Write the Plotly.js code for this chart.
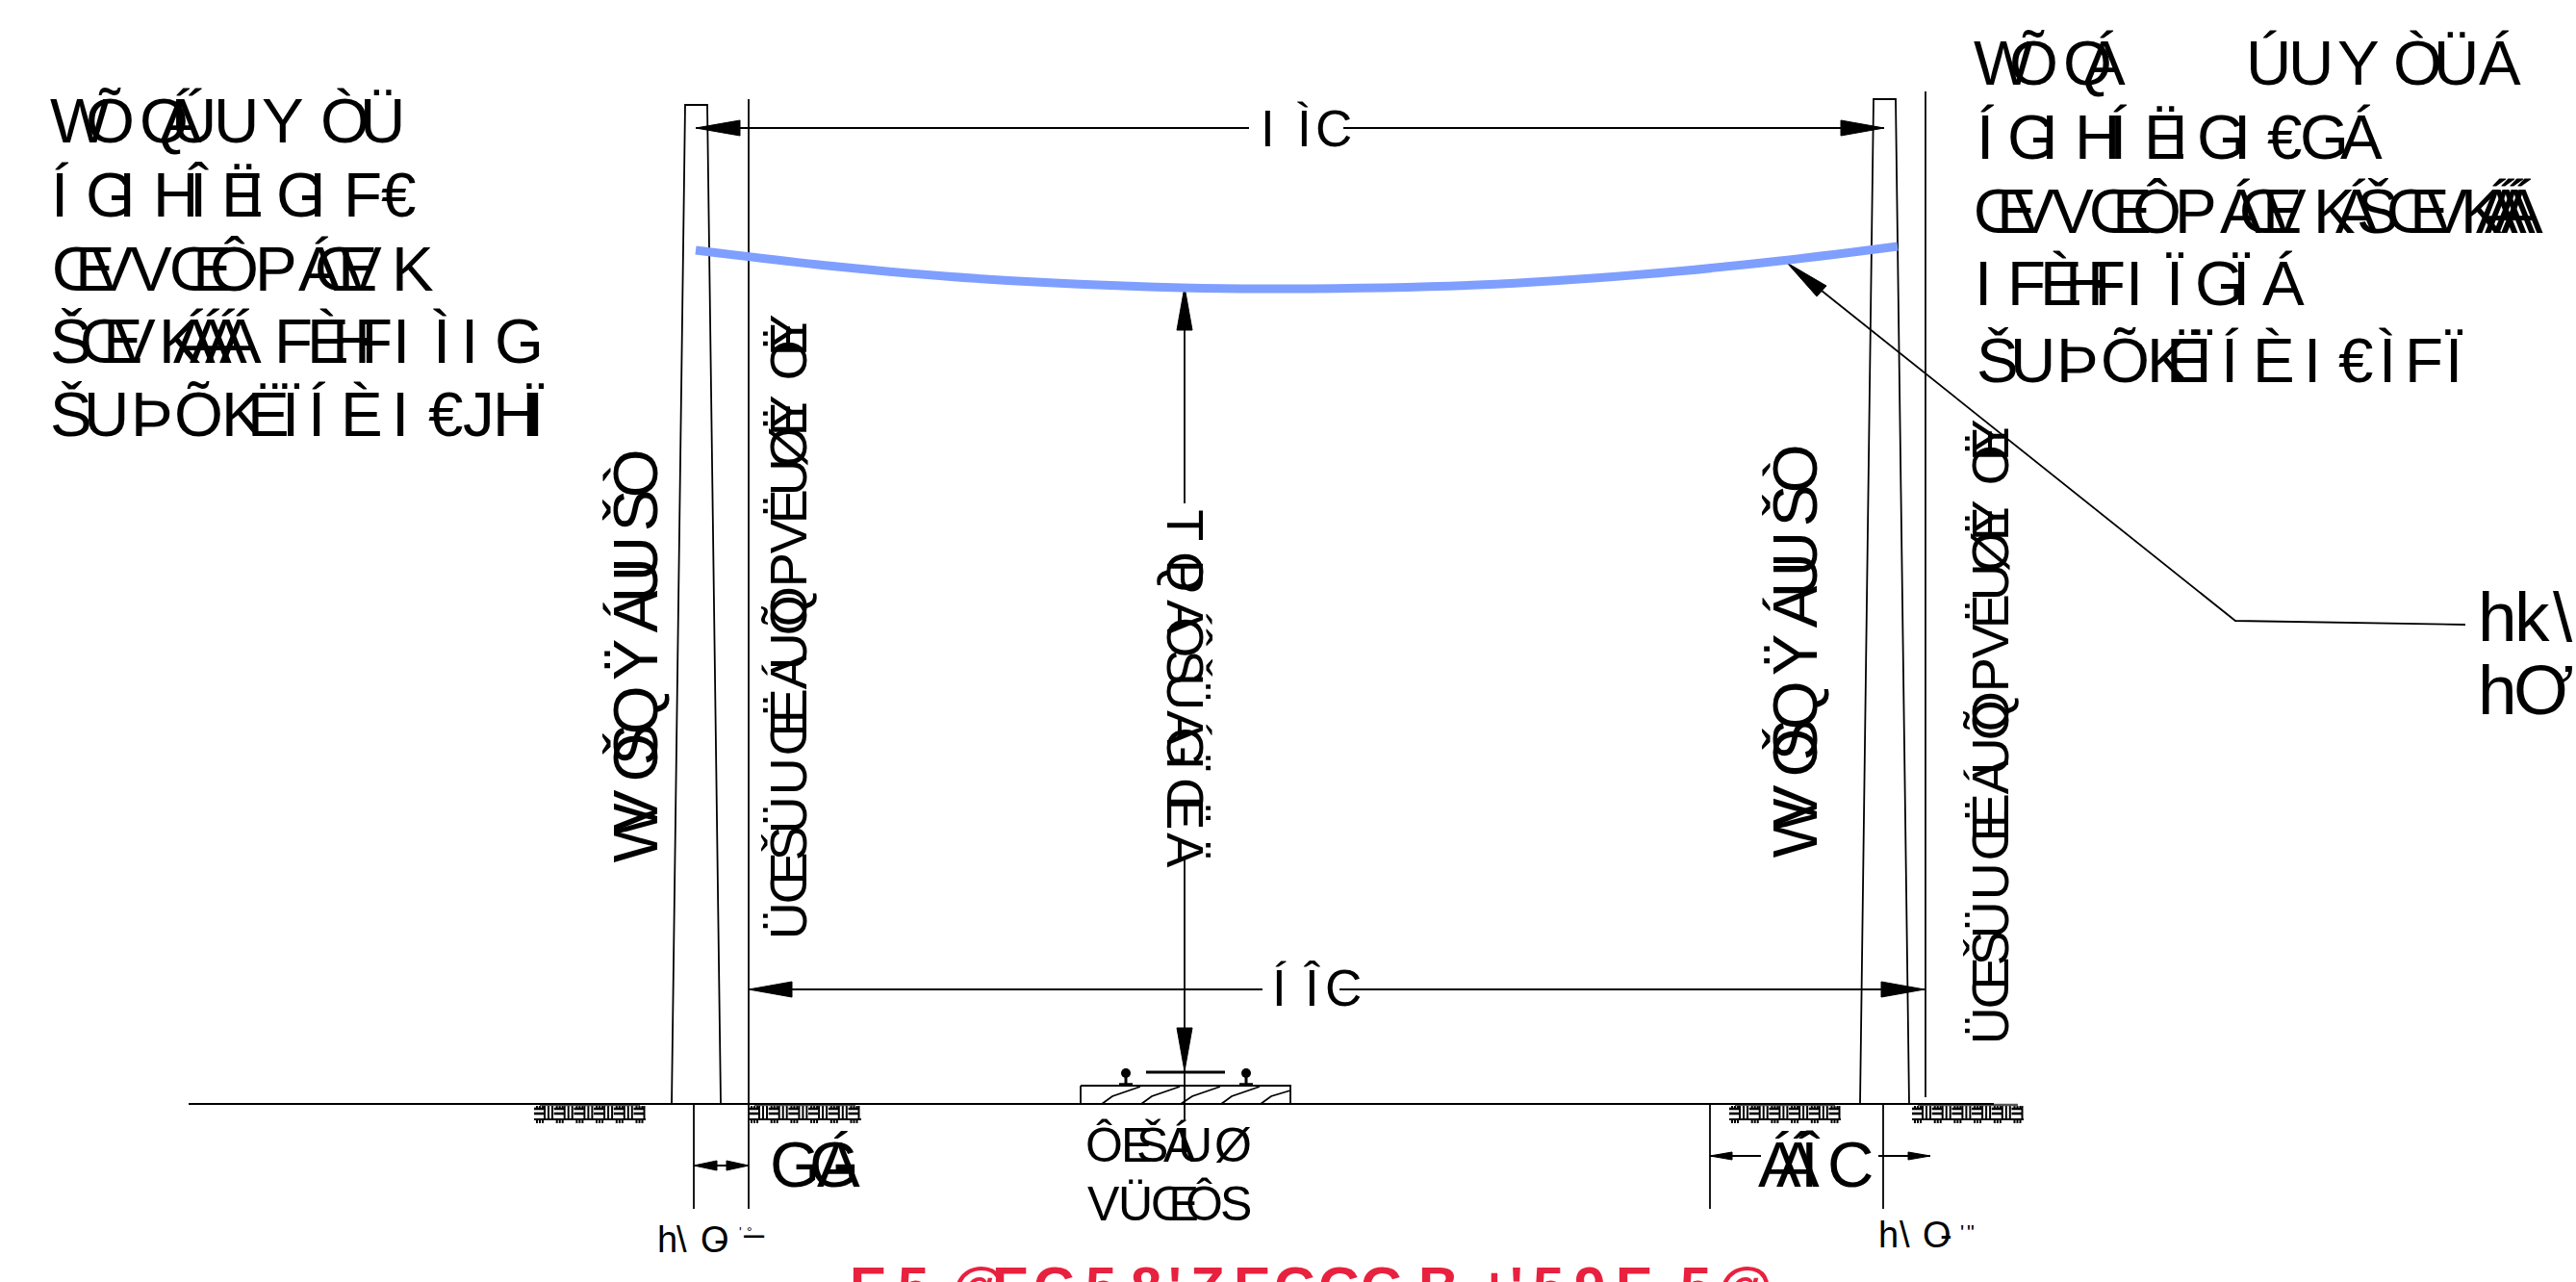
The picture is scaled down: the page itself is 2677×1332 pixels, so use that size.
<!DOCTYPE html>
<html><head><meta charset="utf-8">
<script src="https://cdn.plot.ly/plotly-3.0.1.min.js"></script>
<style>html,body{margin:0;padding:0;background:#fff;overflow:hidden}#c{width:2677px;height:1332px}</style>
</head><body><div id="c"></div>
<script>
// ---- text content ----
const leftNoteLines = ["WÕQÁÚUYÒÜ","ÍGIHÎËIGIF€","ŒVVŒÔPÁŒVK","ŠŒVKÁÁÁÁFÈHFIÌIG","ŠUÞÕKËÏÍÈI€JHÏ"];
const rightNoteLines = ["WÕQÁÚUYÒÜÁ","ÍGIHÍËIGI€GÁ","ŒVVŒÔPÁŒVKÁŠŒVKÁÁÁÁ","IFÈHFIÏGÏÁ","ŠUÞÕKËÏÍÈI€ÌFÏ"];
const poleLabel = "WVOŠQŸÁUUŠÒ";
const clearanceLabel = "ÜŒŠÜUŒËÁUÕQPVËUØËYOËY";
const centerLabel = "TQPÁÔŠÜÁGÏŒËÄ";
const wireLabels = ["hk\\","hƠ"];
const spanTop = "IÌC", spanBottom = "ÍÎC";
const offsetLeft = "GGÁ", offsetRight = "ÁÁÎC";
const trackLabels = ["ÔEŠÁUØ","VÜŒÔS"];
const poleTagLeft = "h\\O-", poleTagRight = "h\\O-";
const redTitle = "E5@EG58'ZEGGGB+'59E5@";

// ---- drawing values ----
const cableX = [723,860,1024,1229,1332,1536,1707,1850,1972];
const cableY = [260,276,290,299,300,296,285,271,256];
const leftPoleX = [698,712,735,749], leftPoleY = [1147,109,109,1147];
const rightPoleX = [1933,1947,1970,1984], rightPoleY = [1147,103,103,1147];
const groundX = [196,2072], groundY = [1147,1147];
const leaderX = [1893,2323,2562], leaderY = [302,645,649];
const thinSegX = [778,778,null,2001,2001,null,723,1298,null,1396,1958,null,778,1312,null,1392,2000,null,
  1231,1231,null,1231,1231,null,721,721,null,1777,1777,null,1957,1957,null,721,778,null,1777,1830,null,1952,2006];
const thinSegY = [103,1256,null,95,1140,null,133,133,null,133,133,null,1028,1028,null,1028,1028,null,
  300,523,null,890,1165,null,1147,1256,null,1147,1256,null,1147,1256,null,1211,1211,null,1201,1201,null,1201,1201];
const arrowX = [723,769,769,723,null,1958,1913,1913,1958,null,778,823,823,778,null,2000,1955,1955,2000,null,
  1231,1223,1239,1231,null,1231,1223,1239,1231,null,721,745,745,721,null,778,755,755,778,null,1777,1800,1800,1777,null,2006,1983,1983,2006,null,1857,1898,1888,1857];
const arrowY = [133,125,141,133,null,133,125,141,133,null,1028,1020,1036,1028,null,1028,1020,1036,1028,null,
  298,343,343,298,null,1113,1068,1068,1113,null,1211,1206,1216,1211,null,1211,1206,1216,1211,null,1201,1197,1205,1201,null,1201,1197,1205,1201,null,273,297,308,273];
const plateX = [1123,1341,1341,1123,1123], plateY = [1128,1128,1147,1147,1128];
const plateHatchX = [1145,1156,1185,null,1186,1197,1226,null,1227,1239,1268,null,1269,1280,1309,null,1310,1321,1341];
const plateHatchY = [1147,1139,1129,null,1147,1139,1129,null,1147,1139,1129,null,1147,1139,1129,null,1147,1139,1133];
const railX = [1170,1170,null,1295,1295,null,1191,1273];
const railY = [1115,1127,null,1115,1127,null,1114,1114];
const railBaseX = [1163,1177,null,1288,1302], railBaseY = [1127,1127,null,1127,1127];
const railHeadX = [1170,1295], railHeadY = [1115,1115];
const padStartX = [555,778,1797,1987], padEndX = [671,895,1913,2103];

// ---- glyph layout (left ink edge of each glyph, baseline, size) ----
const leftNoteInk = [[52,92,148,166,183,227,273,336,379],[57,92,129,164,195,235,262,290,327,362,396],
  [57,95,135,179,221,270,310,330,353,412],[54,86,118,170,180,197,213,228,290,324,350,373,414,450,485,517],
  [54,92,141,184,235,262,293,324,359,413,445,482,517,547]];
const leftNoteBase = [148,225,302,377,453];
const rightNoteInk = [[2051,2091,2147,2165,2339,2383,2430,2490,2534,2576],[2058,2089,2127,2161,2196,2233,2262,2286,2327,2356,2393,2432],
  [2054,2092,2132,2174,2219,2265,2307,2330,2353,2409,2427,2451,2483,2521,2562,2573,2582,2591,2599],
  [2058,2091,2125,2151,2174,2215,2251,2284,2320,2351],[2056,2094,2142,2186,2236,2256,2281,2312,2346,2400,2430,2472,2504,2541]];
const rightNoteBase = [88,165,242,317,397];
const poleInk = [0,32,87,103,136,190,239,275,297,346,382];
const clearanceInk = [0,35,80,110,150,189,225,256,280,314,323,366,397,432,461,488,523,527,579,606,611];
const centerInk = [0,45,55,93,113,147,173,208,227,255,280,300,335];

const FONT = '"Liberation Sans", Arial, sans-serif';
const ctx = document.createElement('canvas').getContext('2d');
const ASC = 0.905, DESC = 0.212;
function run(str, inks, fs, bold){
  const ch = Array.from(str);
  ctx.font = (bold ? 'bold ' : '') + fs + 'px ' + FONT;
  const ms = ch.map(c => ctx.measureText(c));
  const org = ch.map((c,i) => inks[i] + ms[i].actualBoundingBoxLeft);
  let html = '';
  ch.forEach((c,i) => {
    const s = i < ch.length-1 ? org[i+1]-org[i]-ms[i].width : 0;
    html += '<span style="letter-spacing:' + s.toFixed(2) + 'px">' + c + '</span>';
  });
  return {html, origin: org[0]};
}
const annos = [];
function hText(str, inks, base, fs, opt){
  opt = opt || {};
  const r = run(str, inks, fs, opt.bold);
  annos.push({xref:'x',yref:'y',x:r.origin,y:base-ASC*fs,xanchor:'left',yanchor:'top',showarrow:false,
    borderpad:0,borderwidth:0,text:opt.bold?'<b>'+r.html+'</b>':r.html,align:'left',
    font:{family:FONT,size:fs,color:opt.color||'#000'}});
}
function vText(str, inks, baseX, startY, fs, angle){
  const r = run(str, inks, fs);
  const c = (ASC-DESC)/2*fs;
  annos.push({xref:'x',yref:'y',x: angle<0 ? baseX-c : baseX+c,
    y: angle<0 ? startY-r.origin : startY+r.origin,
    xanchor:'center',yanchor: angle<0?'bottom':'top',showarrow:false,textangle:angle,
    borderpad:0,borderwidth:0,text:r.html,font:{family:FONT,size:fs,color:'#000'}});
}
leftNoteLines.forEach((s,i)=>hText(s,leftNoteInk[i],leftNoteBase[i],65.5));
rightNoteLines.forEach((s,i)=>hText(s,rightNoteInk[i],rightNoteBase[i],65.5));
vText(poleLabel,poleInk,683,896,65.5,-90);
vText(poleLabel,poleInk,1888,891,65.5,-90);
vText(clearanceLabel,clearanceInk,838,972,54,-90);
vText(clearanceLabel,clearanceInk,2087,1081,54,-90);
vText(centerLabel,centerInk,1213,530,54,90);
hText(wireLabels[0],[2580,2617,2653],666,73);
hText(wireLabels[1],[2580,2615],742,73);
hText(spanTop,[1314,1348,1369],152,53);
hText(spanBottom,[1325,1354,1379],1045,53);
hText(offsetLeft,[803,844,849],1233,67);
hText(offsetRight,[1827,1846,1869,1902],1233,67);
hText(trackLabels[0],[1130,1169,1183,1209,1227,1263],1207,50);
hText(trackLabels[1],[1130,1165,1198,1234,1270],1268,50);
hText(poleTagLeft,[685,703,729,743],1301,38);
hText(poleTagRight,[1954,1974,1999,2017],1296,38);
hText("'°",[768,776],1285,14);
hText("–",[773],1295,38);
hText("'\"",[2038,2044],1288,22);
hText(redTitle,[886,934,992,1034,1076,1129,1176,1217,1238,1285,1326,1372,1416,1477,1538,1572,1594,1638,1682,1747,1788],1356,58,{bold:true,color:'#E8213F'});

// woven ground-pad symbol, repeated along each pad
const weaveH = {x:[],y:[]}, weaveV = {x:[],y:[]}, padTop = {x:[],y:[]}, padFoot = {x:[],y:[]};
padStartX.forEach((x0,k)=>{
  padTop.x.push(x0+6,padEndX[k]-6,null); padTop.y.push(1148,1148,null);
  padFoot.x.push(x0,padEndX[k],null); padFoot.y.push(1163,1163,null);
  for(let x=x0; x<padEndX[k]-4; x+=20.7){
    [1152,1157].forEach(y=>{weaveH.x.push(x,x+10.5,null);weaveH.y.push(y,y,null);});
    [11,15,19].forEach(d=>{ if(x+d<=padEndX[k]){weaveV.x.push(x+d,x+d,null);weaveV.y.push(1149,1163,null);} });
    [3,6,9].forEach(d=>{weaveV.x.push(x+d,x+d,null);weaveV.y.push(1149,1151,null);weaveV.x.push(x+d,x+d,null);weaveV.y.push(1163,1167,null);});
  }
});

const line = (x,y,w,color,extra) => Object.assign({type:'scatter',mode:'lines',x,y,hoverinfo:'skip',
  line:{color:color||'#000',width:w},connectgaps:false},extra||{});
const traces = [
  line(weaveH.x,weaveH.y,2.6),
  line(weaveV.x,weaveV.y,2),
  line(padTop.x,padTop.y,2.5,'#555'),
  line(padFoot.x,padFoot.y,2.2),
  line(groundX,groundY,2.2),
  line(leftPoleX,leftPoleY,1.8),
  line(rightPoleX,rightPoleY,1.8),
  line(thinSegX,thinSegY,1.8),
  line(plateX,plateY,1.8),
  line(plateHatchX,plateHatchY,1.8),
  line(railX,railY,3),
  line(railBaseX,railBaseY,3.5),
  {type:'scatter',mode:'markers',x:railHeadX,y:railHeadY,hoverinfo:'skip',marker:{color:'#000',size:10}},
  line(leaderX,leaderY,1.8),
  line(arrowX,arrowY,1,'#000',{fill:'toself',fillcolor:'#000'}),
  line(cableX,cableY,9,'#7F9FFF',{line:{color:'#7F9FFF',width:9,shape:'spline',smoothing:1}}),
];
const layout = {width:2677,height:1332,autosize:false,margin:{l:0,r:0,t:0,b:0,pad:0},
  paper_bgcolor:'#fff',plot_bgcolor:'#fff',showlegend:false,
  xaxis:{range:[0,2677],visible:false,fixedrange:true},
  yaxis:{range:[1332,0],visible:false,fixedrange:true},
  annotations:annos};
Plotly.newPlot('c',traces,layout,{displayModeBar:false,staticPlot:true,responsive:false});
</script></body></html>
